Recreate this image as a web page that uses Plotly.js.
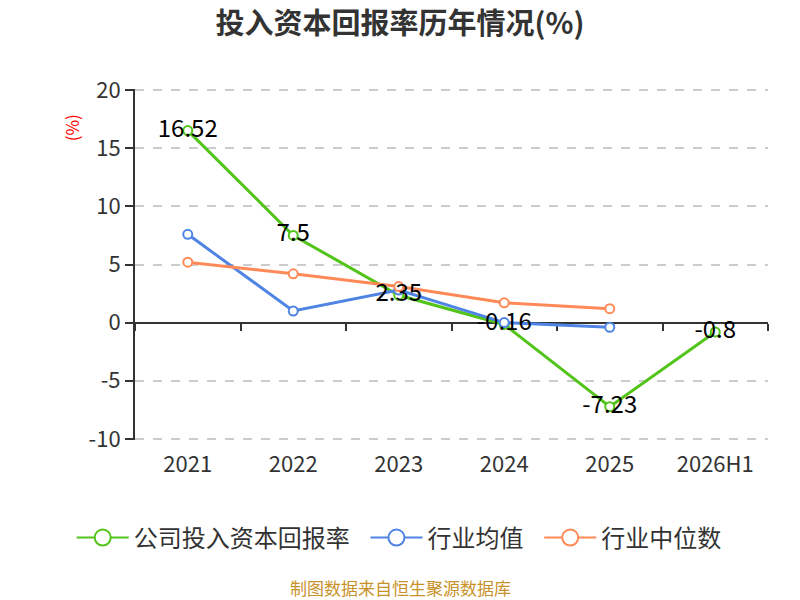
<!DOCTYPE html>
<html>
<head>
<meta charset="utf-8">
<script src="https://cdn.plot.ly/plotly-3.0.1.min.js"></script>
<style>
  html, body { margin: 0; padding: 0; background: #fff; }
  #chart { width: 800px; height: 600px; }
</style>
</head>
<body>
<div id="chart"></div>
<script>
// categories and values
var years = ['2021', '2022', '2023', '2024', '2025', '2026H1'];
var companyRoic = [16.52, 7.5, 2.35, -0.16, -7.23, -0.8];
var industryAvg = [7.6, 1.0, 2.8, 0.0, -0.4];
var industryMedian = [5.2, 4.2, 3.1, 1.7, 1.2];
var yTicks = [-10, -5, 0, 5, 10, 15, 20];

var seriesNames = ['公司投入资本回报率', '行业均值', '行业中位数'];
var seriesColors = ['#52c41a', '#4f84e4', '#ff8a57'];

var FONT = '"Noto Sans CJK SC", "Noto Sans", sans-serif';

// a touch of padding so the end gridlines are not clipped
var yRange = [-10.1, 20.1];
var zeroPos = (0 - yRange[0]) / (yRange[1] - yRange[0]);

function lineTrace(i, y) {
	var color = seriesColors[i];
	return {
		name: seriesNames[i],
		x: years.slice(0, y.length),
		y: y,
		type: 'scatter',
		mode: 'lines+markers',
		line: {color: color, width: 3},
		marker: {symbol: 'circle', size: 9, color: '#ffffff', line: {color: color, width: 2}},
		cliponaxis: false,
		showlegend: false,
		hoverinfo: 'skip'
	};
}

// legend-only entries, with the bigger circle the reference uses
function legendTrace(i) {
	var color = seriesColors[i];
	return {
		name: seriesNames[i] + '\u00a0\u00a0',
		x: [null], y: [null],
		type: 'scatter',
		mode: 'lines+markers',
		line: {color: color, width: 2},
		marker: {symbol: 'circle', size: 20, color: '#ffffff', line: {color: color, width: 2}},
		hoverinfo: 'skip'
	};
}

var traces = [
	lineTrace(0, companyRoic),
	lineTrace(1, industryAvg),
	lineTrace(2, industryMedian),
	// labels last, so the numbers sit above every line
	{
		x: years, y: companyRoic, text: companyRoic.map(String),
		type: 'scatter', mode: 'text', textposition: 'middle center',
		textfont: {family: FONT, size: 24, color: '#000000'},
		showlegend: false, hoverinfo: 'skip', cliponaxis: false
	},
	legendTrace(0), legendTrace(1), legendTrace(2),
	// dummy trace so xaxis2 is drawn
	{x: years, y: years.map(function () { return null; }), xaxis: 'x2', type: 'scatter', mode: 'lines', showlegend: false, hoverinfo: 'skip'}
];

var layout = {
	width: 800, height: 600,
	paper_bgcolor: '#ffffff', plot_bgcolor: '#ffffff',
	font: {family: FONT, color: '#333333'},
	margin: {l: 135, r: 32, t: 89, b: 160, autoexpand: false},
	title: {
		text: '<b>投入资本回报率历年情况(%)</b>',
		font: {family: FONT, size: 29, color: '#333333'},
		x: 0.5, xanchor: 'center', y: 0.96, yanchor: 'middle'
	},
	xaxis: {
		type: 'category',
		categoryarray: years,
		range: [-0.5, 5.5],
		showgrid: false, zeroline: false, showline: false,
		ticks: '', ticklen: 0,
		ticklabelstandoff: 9,
		tickfont: {family: FONT, size: 22, color: '#333333'},
		fixedrange: true
	},
	// axis line on the zero level with boundary ticks, kept under the labels
	xaxis2: {
		type: 'category',
		categoryarray: years,
		range: [-0.5, 5.5],
		overlaying: 'x',
		anchor: 'free',
		position: zeroPos,
		side: 'bottom',
		layer: 'below traces',
		showline: true, linecolor: '#333333', linewidth: 2,
		ticks: 'outside', tickson: 'boundaries', ticklen: 7, tickwidth: 2, tickcolor: '#333333',
		showticklabels: false, showgrid: false, zeroline: false
	},
	yaxis: {
		range: yRange,
		tickvals: yTicks,
		ticktext: yTicks.map(String),
		showline: true, linecolor: '#333333', linewidth: 2,
		ticks: 'outside', ticklen: 8, tickwidth: 2, tickcolor: '#333333',
		showgrid: true, gridcolor: '#cccccc', griddash: 'dash', gridwidth: 2,
		zeroline: false,
		tickfont: {family: FONT, size: 22, color: '#333333'},
		fixedrange: true
	},
	showlegend: true,
	legend: {
		orientation: 'h',
		x: -0.1, xanchor: 'left',
		y: -0.279, yanchor: 'middle',
		font: {family: FONT, size: 24, color: '#333333'},
		itemsizing: 'trace',
		itemwidth: 52,
		tracegroupgap: 0
	},
	annotations: [
		{
			text: '(%)', xref: 'paper', yref: 'paper',
			x: -0.1, y: 0.89, xanchor: 'center', yanchor: 'middle',
			textangle: -90, showarrow: false,
			font: {family: FONT, size: 17, color: '#ff0000'}
		},
		{
			text: '制图数据来自恒生聚源数据库', xref: 'paper', yref: 'paper',
			x: 0.419, y: -0.42, xanchor: 'center', yanchor: 'middle',
			showarrow: false,
			font: {family: FONT, size: 17, color: '#c8922a'}
		}
	]
};

Plotly.newPlot('chart', traces, layout, {displayModeBar: false, staticPlot: true});
</script>
</body>
</html>
